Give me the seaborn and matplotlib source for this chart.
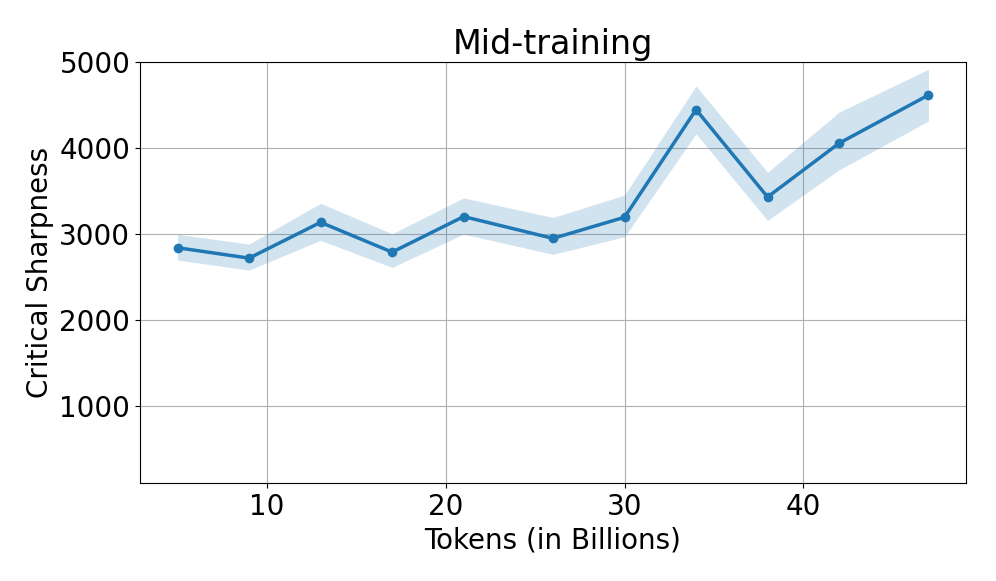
import matplotlib
matplotlib.use("Agg")
import matplotlib.pyplot as plt
import seaborn as sns
import pandas as pd

# Values
tokens = [5, 9, 13, 17, 21, 26, 30, 34, 38, 42, 47]
sharpness = [2837, 2716, 3133, 2786, 3200, 2946, 3192, 4445, 3428, 4054, 4615]
band_low = [2693, 2577, 2923, 2608, 2996, 2760, 2965, 4164, 3155, 3743, 4313]
band_high = [2993, 2880, 3355, 3000, 3417, 3190, 3450, 4720, 3716, 4416, 4915]

df = pd.DataFrame({"tokens": tokens, "sharpness": sharpness})

fig, ax = plt.subplots(figsize=(9.96, 5.81), dpi=100)
fig.subplots_adjust(left=0.1406, right=0.9699, top=0.8933, bottom=0.169)

ax.fill_between(tokens, band_low, band_high, color="tab:blue", alpha=0.2, linewidth=0)
sns.lineplot(data=df, x="tokens", y="sharpness", ax=ax, color="tab:blue",
             marker="o", markersize=7, markeredgewidth=0, linewidth=2.5)

ax.set_ylim(100, 5000)
ax.set_yticks([1000, 2000, 3000, 4000, 5000])
ax.set_xticks([10, 20, 30, 40])
ax.grid(True, color="#b0b0b0", linewidth=0.8)
ax.set_axisbelow(True)

ax.set_title("Mid-training", fontsize=24)
ax.set_xlabel("Tokens (in Billions)", fontsize=20)
ax.set_ylabel("Critical Sharpness", fontsize=20)
ax.tick_params(labelsize=20)

fig.savefig("out.png", dpi=100)
